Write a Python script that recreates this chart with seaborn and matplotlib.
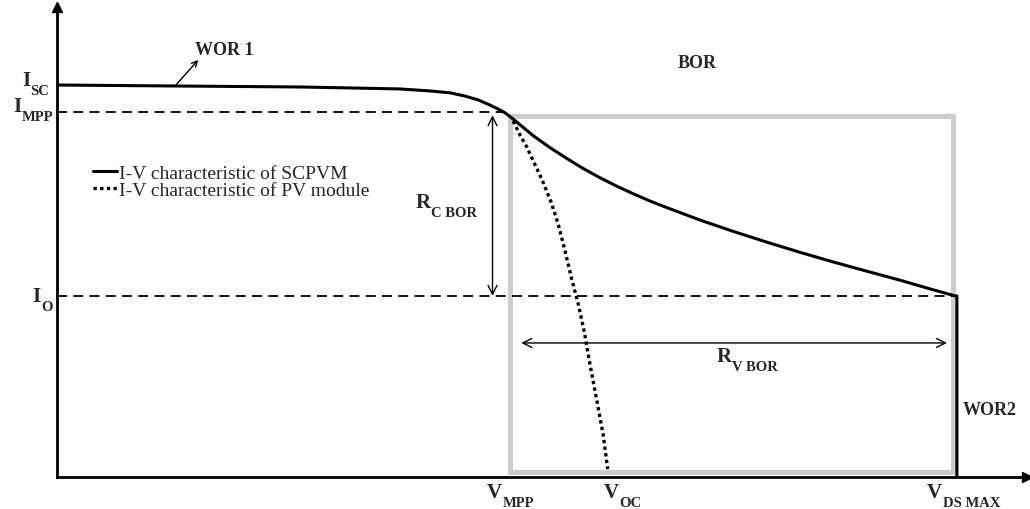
import matplotlib
matplotlib.use("Agg")
import matplotlib.pyplot as plt
import seaborn as sns
import pandas as pd
from matplotlib.patches import Rectangle

# I-V curve of the SCPVM (normalised: V_DS MAX = 1, I_SC = 1)
v_scpvm = [0.0, 0.159, 0.270, 0.337, 0.381, 0.414, 0.437, 0.453, 0.468, 0.481,
           0.490, 0.498, 0.507, 0.529, 0.548, 0.567, 0.584, 0.603, 0.622, 0.640,
           0.659, 0.678, 0.714, 0.751, 0.789, 0.826, 0.862, 0.900, 0.937, 0.970,
           0.998, 1.0, 1.0]
i_scpvm = [1.0, 0.997, 0.995, 0.992, 0.990, 0.985, 0.980, 0.972, 0.962, 0.949,
           0.939, 0.929, 0.913, 0.871, 0.840, 0.812, 0.788, 0.764, 0.742, 0.723,
           0.704, 0.687, 0.656, 0.627, 0.599, 0.573, 0.549, 0.525, 0.502, 0.480,
           0.462, 0.462, 0.0]

# I-V curve of the plain PV module
v_pv = [0.507, 0.514, 0.522, 0.531, 0.540, 0.549, 0.557, 0.564, 0.572, 0.579,
        0.586, 0.592, 0.600, 0.607, 0.612]
i_pv = [0.908, 0.875, 0.842, 0.798, 0.753, 0.702, 0.645, 0.582, 0.505, 0.444,
        0.370, 0.291, 0.194, 0.107, 0.020]

# characteristic points
i_sc, i_mpp, i_o = 1.0, 0.931, 0.462
v_mpp, v_oc, v_dsmax = 0.503, 0.612, 1.0

# BOR region and the R_C / R_V spans
bor_v = [0.503, 0.996]
bor_i = [0.012, 0.921]
rc_v, rc_i = 0.484, [0.923, 0.462]
rv_i, rv_v = 0.342, [0.516, 0.989]

legend_labels = ["I-V characteristic of SCPVM", "I-V characteristic of PV module"]

sns.set_style("white")
plt.rcParams["font.family"] = ["Liberation Serif", "DejaVu Serif"]

fig = plt.figure(figsize=(10.3, 5.1), dpi=100)
ax = fig.add_axes([0.0553, 0.0627, 0.9417, 0.9216])
ax.set_xlim(0, 1.0778)
ax.set_ylim(0, 1.199)

df_s = pd.DataFrame({"V": v_scpvm, "I": i_scpvm})
df_p = pd.DataFrame({"V": v_pv, "I": i_pv})

ax.add_patch(Rectangle((bor_v[0], bor_i[0]), bor_v[1] - bor_v[0], bor_i[1] - bor_i[0],
                       fill=False, edgecolor="#cccccc", lw=3.6, zorder=1))

ax.hlines(i_mpp, 0, v_mpp - 0.006, colors="black", lw=1.3, linestyles=(0, (5.5, 3.5)), zorder=2)
ax.hlines(i_o, 0, bor_v[1], colors="black", lw=1.3, linestyles=(0, (5.5, 3.5)), zorder=2)

sns.lineplot(data=df_s, x="V", y="I", sort=False, estimator=None, color="black",
             lw=2.2, ax=ax, label=legend_labels[0], zorder=4)
sns.lineplot(data=df_p, x="V", y="I", sort=False, estimator=None, color="black",
             lw=2.4, ax=ax, label=legend_labels[1], zorder=4)
ax.lines[-1].set_linestyle((0, (1, 1)))

ax.legend(loc="upper left", bbox_to_anchor=(0.037, 0.666), frameon=False,
          fontsize=14, handlelength=1.25, handletextpad=0.1, labelspacing=-0.02,
          borderaxespad=0, borderpad=0)

arrow = dict(arrowstyle="<->", lw=1.0, color="black", mutation_scale=16,
             shrinkA=0, shrinkB=0)
ax.annotate("", xy=(rc_v, rc_i[0]), xytext=(rc_v, rc_i[1]), arrowprops=arrow)
ax.annotate("", xy=(rv_v[0], rv_i), xytext=(rv_v[1], rv_i), arrowprops=arrow)
ax.annotate("", xy=(0.157, 1.064), xytext=(0.131, 0.997),
            arrowprops=dict(arrowstyle="->", lw=1.0, color="black", shrinkA=0, shrinkB=0))

# axes with arrow heads
for s in ["top", "right"]:
    ax.spines[s].set_visible(False)
for s in ["left", "bottom"]:
    ax.spines[s].set_linewidth(2.0)
    ax.spines[s].set_color("black")
ax.plot(1, 0, ">", color="black", ms=7, transform=ax.get_yaxis_transform(), clip_on=False)
ax.plot(0, 1, "^", color="black", ms=7, transform=ax.get_xaxis_transform(), clip_on=False)
ax.set_xticks([])
ax.set_yticks([])
ax.set_xlabel("")
ax.set_ylabel("")


def sub_label(x, y, main, sub, fs=15, sfs=10.5):
    t = ax.text(x, y, main, fontsize=fs, fontweight="bold", va="baseline",
                ha="left", clip_on=False)
    ax.annotate(sub, xy=(1, 0), xycoords=t, xytext=(0.3, -3.0),
                textcoords="offset points", fontsize=sfs, fontweight="bold",
                va="baseline", ha="left", annotation_clip=False)


sub_label(-0.039, i_sc, "I", "SC")
sub_label(-0.049, 0.934, "I", "MPP")
sub_label(-0.027, 0.449, "I", "O")
sub_label(0.478, -0.051, "V", "MPP")
sub_label(0.608, -0.051, "V", "OC")
sub_label(0.967, -0.051, "V", "DS MAX")
sub_label(0.398, 0.69, "R", "C BOR")
sub_label(0.733, 0.296, "R", "V BOR")

kw = dict(fontsize=13, fontweight="bold", va="baseline", clip_on=False)
ax.text(0.153, 1.079, "WOR 1", ha="left", **kw)
ax.text(0.711, 1.045, "BOR", ha="center", **kw)
ax.text(1.006, 0.161, "WOR2", ha="left", **kw)

fig.savefig("out.png", dpi=100)
